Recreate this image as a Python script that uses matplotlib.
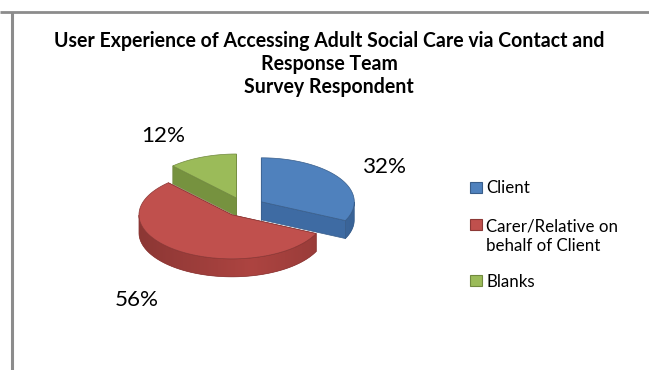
import numpy as np
import matplotlib
matplotlib.use("Agg")
from matplotlib import pyplot as plt
from matplotlib.patches import Polygon, Rectangle
from matplotlib.colors import to_rgb

plt.rcParams["font.family"] = ["Lato", "DejaVu Sans"]

title_lines = ["User Experience of Accessing Adult Social Care via Contact and",
               "Response Team", "Survey Respondent"]
categories = ["Client", "Carer/Relative on\nbehalf of Client", "Blanks"]
shares = [32, 56, 12]
top_colors = ["#4F81BD", "#C0504D", "#9BBB59"]
side_colors = ["#3E6BA3", "#A3403D", "#76923F"]
edge_colors = ["#385D8A", "#8C3836", "#71893F"]

# pie geometry, in pixels
cx, cy = 244, 207
a, b, depth = 93, 44, 18
explode = 0.22
# label offset factors (x, y) relative to the ellipse radii
label_fac = [(1.58, 1.47), (1.74, 2.39), (2.15, 1.52)]

fig = plt.figure(figsize=(6.49, 3.70), dpi=100)
ax = fig.add_axes([0, 0, 1, 1])
ax.set_xlim(0, 649)
ax.set_ylim(370, 0)
ax.axis("off")
renderer = fig.canvas.get_renderer()


def size_for(s, width, **kw):
    # font size that makes string s `width` pixels wide
    t = ax.text(0, 0, s, fontsize=10, **kw)
    w = t.get_window_extent(renderer).width
    t.remove()
    return 10 * width / w


def shade(color, f):
    r, g, bb = to_rgb(color)
    return (min(r * f, 1), min(g * f, 1), min(bb * f, 1))


# frame lines
ax.plot([0, 649], [11.5, 11.5], color="#8C8C8C", lw=2.0, solid_capstyle="butt")
ax.plot([11.5, 11.5], [11.5, 370], color="#8C8C8C", lw=2.2, solid_capstyle="butt")

fracs = np.array(shares) / sum(shares)
ends = 90 - 360 * np.cumsum(fracs)
starts = np.concatenate([[90], ends[:-1]])

slices = []
for i in range(len(shares)):
    t0, t1 = starts[i], ends[i]
    mid = np.radians((t0 + t1) / 2)
    sx = cx + explode * a * np.cos(mid)
    sy = cy - explode * b * np.sin(mid)
    slices.append((sy, i, sx, t0, t1, mid))

pct_size = size_for("32%", 44)
for sy, i, sx, t0, t1, mid in sorted(slices):
    th = np.radians(np.linspace(t0, t1, 240))
    # radial walls
    for t in (t0, t1):
        tr = np.radians(t)
        px, py = sx + a * np.cos(tr), sy - b * np.sin(tr)
        wall = [(sx, sy), (px, py), (px, py + depth), (sx, sy + depth)]
        ax.add_patch(Polygon(wall, closed=True, fc=side_colors[i], ec=edge_colors[i], lw=0.5))
    # outer wall on front half, with a soft horizontal gradient
    front = np.sin(th) < 0
    if front.any():
        tf = th[front]
        xs = sx + a * np.cos(tf)
        ys = sy - b * np.sin(tf)
        poly = np.concatenate([np.c_[xs, ys], np.c_[xs[::-1], ys[::-1] + depth]])
        wall = Polygon(poly, closed=True, fc=side_colors[i], ec="none")
        ax.add_patch(wall)
        u = np.linspace(-1, 1, 200)
        f = 0.86 + 0.2 * (1 - np.abs(u - 0.2) / 1.2)
        grad = np.array([[shade(side_colors[i], v) for v in f]])
        im = ax.imshow(grad, extent=(sx - a, sx + a, sy + b + depth, sy - b),
                       aspect="auto", interpolation="bilinear", zorder=1)
        im.set_clip_path(wall)
        ax.add_patch(Polygon(poly, closed=True, fc="none", ec=edge_colors[i], lw=0.5, zorder=1.1))
    # top face
    xs = sx + a * np.cos(th)
    ys = sy - b * np.sin(th)
    poly = np.concatenate([[[sx, sy]], np.c_[xs, ys]])
    ax.add_patch(Polygon(poly, closed=True, fc=top_colors[i], ec=edge_colors[i], lw=0.5, zorder=1.2))
    # percentage label
    fx, fy = label_fac[i]
    lx = sx + fx * a * np.cos(mid)
    ly = sy - fy * b * np.sin(mid)
    ax.text(lx, ly, f"{shares[i]}%", fontsize=pct_size, ha="center", va="center")

ax.set_xlim(0, 649)
ax.set_ylim(370, 0)

# title, one line at a time
tsize = size_for(title_lines[0], 552, fontweight="bold")
for s, y in zip(title_lines, [47, 70, 93]):
    ax.text(329, y, s, fontsize=tsize, fontweight="bold", ha="center", va="baseline")

# legend drawn by hand so the swatch lines up with the first text line
lsize = size_for("Carer/Relative on", 132)
for i, y in enumerate([193, 231, 287]):
    for k, line in enumerate(categories[i].split("\n")):
        ax.text(486, y + 20 * k, line, fontsize=lsize, ha="left", va="baseline")
for i, y in enumerate([182, 219, 275]):
    ax.add_patch(Rectangle((469.5, y), 12, 11, fc=top_colors[i], ec=edge_colors[i], lw=0.8))

fig.savefig("out.png", dpi=100)
